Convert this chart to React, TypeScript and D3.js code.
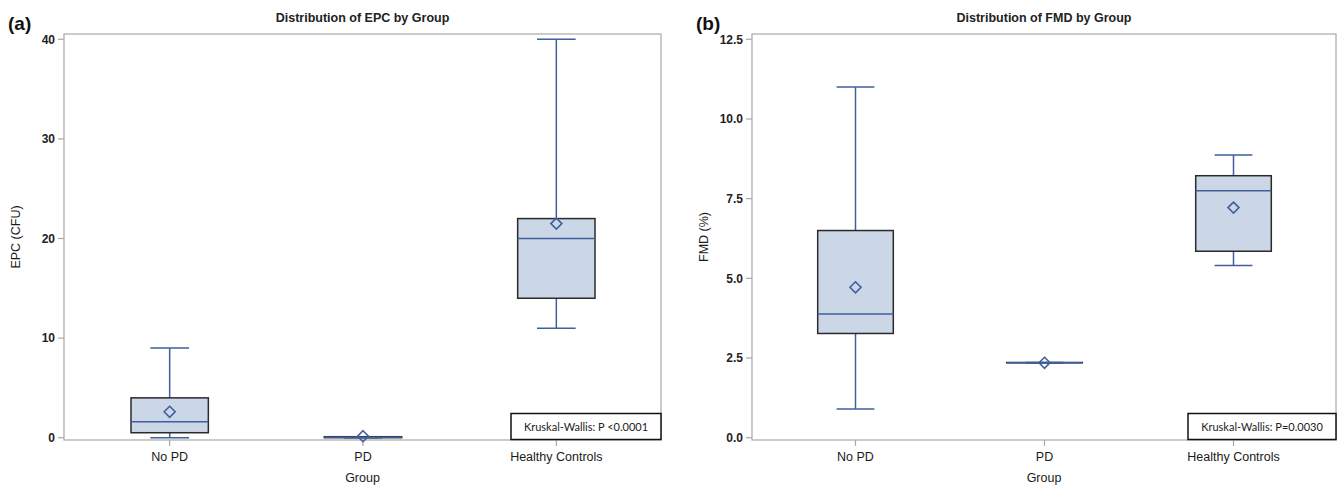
import React from 'react'
import * as d3 from 'd3'

const groups = ['No PD', 'PD', 'Healthy Controls']

// EPC (CFU) five-number summaries + mean
const epcMin = [0, 0, 11]
const epcQ1 = [0.5, 0, 14]
const epcMedian = [1.6, 0.05, 20]
const epcQ3 = [4, 0.1, 22]
const epcMax = [9, 0.1, 40]
const epcMean = [2.6, 0.15, 21.5]
const epcTicks = [0, 10, 20, 30, 40]

// FMD (%) five-number summaries + mean
const fmdMin = [0.9, 2.35, 5.4]
const fmdQ1 = [3.27, 2.35, 5.85]
const fmdMedian = [3.88, 2.35, 7.75]
const fmdQ3 = [6.5, 2.36, 8.22]
const fmdMax = [11, 2.36, 8.87]
const fmdMean = [4.72, 2.35, 7.22]
const fmdTicks = [0, 2.5, 5, 7.5, 10, 12.5]

const BLUE = '#3f5f9f'
const FILL = '#cbd6e6'
const FRAME = '#a8a8a8'
const FONT = 'Liberation Sans, Arial, sans-serif'

type PanelProps = {
  left: number
  right: number
  tag: string
  title: string
  ylabel: string
  stat: string
  statLeft: number
  ticks: number[]
  fmt: (v: number) => string
  mins: number[]
  q1: number[]
  med: number[]
  q3: number[]
  maxs: number[]
  means: number[]
}

const Panel = (p: PanelProps) => {
  const top = 34, bottom = 440
  const y = d3.scaleLinear()
    .domain([0, p.ticks[p.ticks.length - 1]])
    .range([437.7, 39.3])
  const x = d3.scaleBand()
    .domain(groups)
    .range([p.left + 9, p.right - 8])
  const bw = x.bandwidth() * 0.4
  const cap = bw / 2
  const cx = (g: string) => (x(g) as number) + x.bandwidth() / 2
  const mid = (p.left + p.right) / 2

  return (
    <g fontFamily={FONT}>
      <text x={p.left - 56} y={30} fontSize={19} fontWeight="bold" fill="#111">{p.tag}</text>
      <text x={mid} y={22} fontSize={12.5} fontWeight="bold" textAnchor="middle" fill="#222">{p.title}</text>
      <rect x={p.left} y={top} width={p.right - p.left} height={bottom - top}
        fill="white" stroke={FRAME} strokeWidth={1.2} />
      {p.ticks.map(t => (
        <g key={t}>
          <line x1={p.left - 6} x2={p.left} y1={y(t)} y2={y(t)} stroke={FRAME} strokeWidth={1.2} />
          <text x={p.left - 9} y={y(t)} dy="0.35em" textAnchor="end" fontSize={12}
            fontWeight="bold" fill="#222">{p.fmt(t)}</text>
        </g>
      ))}
      {groups.map(g => (
        <g key={g}>
          <line x1={cx(g)} x2={cx(g)} y1={bottom} y2={bottom + 6} stroke={FRAME} strokeWidth={1.2} />
          <text x={cx(g)} y={461} textAnchor="middle" fontSize={12.5} fill="#1a1a1a">{g}</text>
        </g>
      ))}
      <text x={mid} y={482} textAnchor="middle" fontSize={12.5} fill="#1a1a1a">Group</text>
      <text transform={`translate(${p.left - 44},${(top + bottom) / 2}) rotate(-90)`}
        textAnchor="middle" fontSize={12.5} fill="#1a1a1a">{p.ylabel}</text>

      {groups.map((g, i) => {
        const c = cx(g)
        const my = y(p.means[i])
        const d = 5.5
        return (
          <g key={g}>
            <line x1={c} x2={c} y1={y(p.maxs[i])} y2={y(p.q3[i])} stroke={BLUE} strokeWidth={1.5} />
            <line x1={c} x2={c} y1={y(p.q1[i])} y2={y(p.mins[i])} stroke={BLUE} strokeWidth={1.5} />
            <line x1={c - cap / 2} x2={c + cap / 2}
              y1={y(p.maxs[i])} y2={y(p.maxs[i])} stroke={BLUE} strokeWidth={1.5} />
            <line x1={c - cap / 2} x2={c + cap / 2}
              y1={y(p.mins[i])} y2={y(p.mins[i])} stroke={BLUE} strokeWidth={1.5} />
            <rect x={c - bw / 2} y={y(p.q3[i])} width={bw}
              height={Math.max(0, y(p.q1[i]) - y(p.q3[i]))}
              fill={FILL} stroke="#2a2a2a" strokeWidth={1.5} />
            <line x1={c - bw / 2} x2={c + bw / 2} y1={y(p.med[i])} y2={y(p.med[i])}
              stroke={BLUE} strokeWidth={1.5} />
            <path d={`M${c},${my - d}L${c + d},${my}L${c},${my + d}L${c - d},${my}Z`}
              fill="none" stroke={BLUE} strokeWidth={1.6} />
          </g>
        )
      })}

      <rect x={p.statLeft} y={413.5} width={p.right - p.statLeft} height={26}
        fill="white" stroke="#111" strokeWidth={1.5} />
      <text x={(p.statLeft + p.right) / 2} y={427} dy="0.35em" textAnchor="middle"
        fontSize={11} fontFamily="Lato, Open Sans, sans-serif" fill="#222">{p.stat}</text>
    </g>
  )
}

export default function App() {
  return (
    <svg width={1342} height={488} style={{ position: 'absolute', left: 0, top: 0, background: 'white' }}>
      <Panel left={64} right={661} tag="(a)" title="Distribution of EPC by Group"
        ylabel="EPC (CFU)" stat="Kruskal-Wallis: P <0.0001" statLeft={511}
        ticks={epcTicks} fmt={d3.format('d')}
        mins={epcMin} q1={epcQ1} med={epcMedian} q3={epcQ3} maxs={epcMax} means={epcMean} />
      <Panel left={752} right={1336} tag="(b)" title="Distribution of FMD by Group"
        ylabel="FMD (%)" stat="Kruskal-Wallis: P=0.0030" statLeft={1188}
        ticks={fmdTicks} fmt={d3.format('.1f')}
        mins={fmdMin} q1={fmdQ1} med={fmdMedian} q3={fmdQ3} maxs={fmdMax} means={fmdMean} />
    </svg>
  )
}
